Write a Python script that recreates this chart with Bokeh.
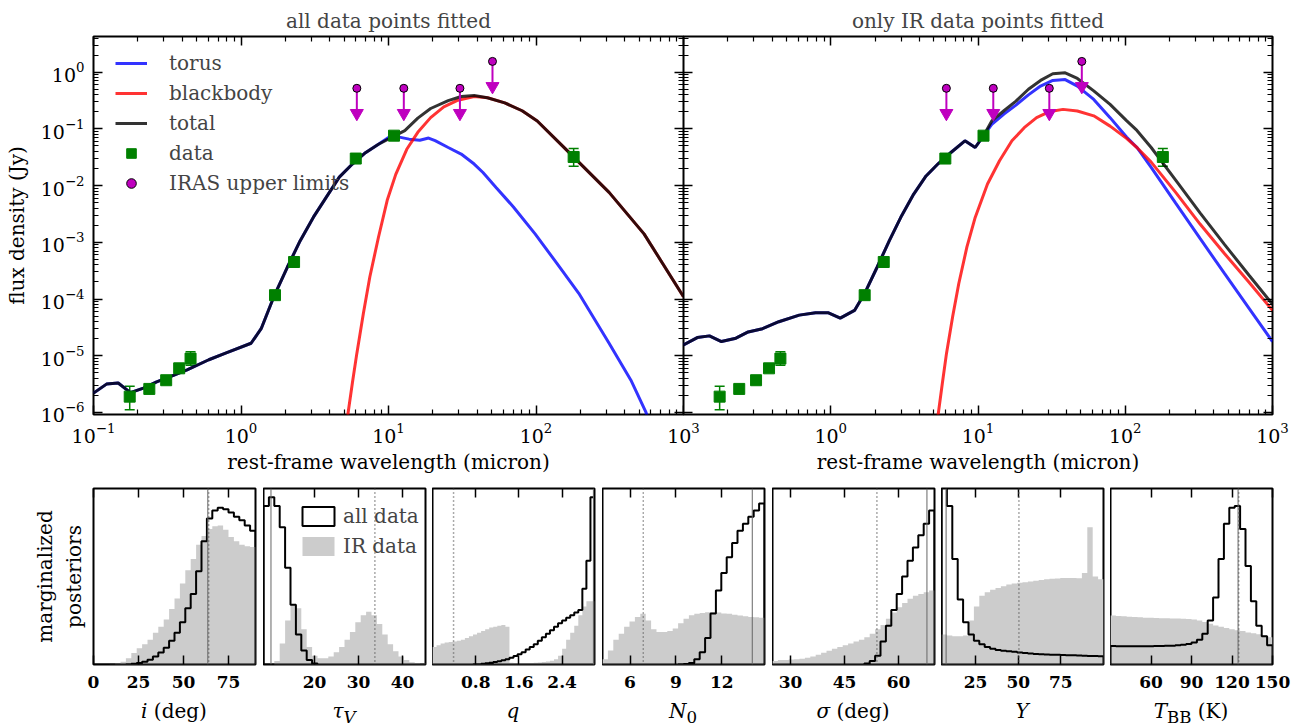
import numpy as np
from bokeh.plotting import figure
from bokeh.layouts import row, column
from bokeh.models import (Range1d, LogAxis, LinearAxis, FixedTicker, Legend, LegendItem,
                          Span, Whisker, TeeHead, ColumnDataSource, CustomJSTickFormatter, Div)
from bokeh.embed import file_html
from bokeh.resources import INLINE

FONT = "DejaVu Serif"
BLUE, RED, BLACK = "#0000ff", "#ff0000", "#000000"
GREEN, MAG, GREY = "#008000", "#bf00bf", "#cccccc"

# ---------------- SED: observed photometry (micron, Jy) ----------------
obs_wl = [0.176, 0.239, 0.311, 0.381, 0.455, 1.70, 2.29, 6.0, 10.9, 180.0]
obs_flux = [1.9e-6, 2.6e-6, 3.7e-6, 6.0e-6, 8.9e-6, 1.17e-4, 4.5e-4, 0.030, 0.076, 0.032]
obs_low = [1.12e-6, 2.3e-6, 3.3e-6, 5.2e-6, 6.8e-6, 1.05e-4, 4.0e-4, 0.027, 0.069, 0.022]
obs_high = [2.9e-6, 2.95e-6, 4.1e-6, 6.9e-6, 1.17e-5, 1.30e-4, 5.0e-4, 0.033, 0.083, 0.045]

iras_wl = [6.1, 12.7, 30.5, 50.7]
iras_lim = [0.52, 0.52, 0.52, 1.55]

# ---------------- SED: fit with all data points ----------------
all_total_wl = [0.100, 0.1225, 0.147, 0.178, 0.218, 0.268, 0.352, 0.431, 0.605, 0.794, 1.17, 1.37,
                1.67, 2.06, 2.52, 3.09, 3.78, 4.64, 5.69, 6.98, 8.55, 10.5, 12.9, 15.8, 19.3, 25.4,
                31.1, 38.1, 46.8, 61.4, 80.5, 102, 159, 313, 540, 1000]
all_total_flux = [2.19e-6, 3.16e-6, 3.31e-6, 2.24e-6, 2.69e-6, 3.47e-6, 4.57e-6, 5.62e-6, 8.5e-6,
                  1.12e-5, 1.66e-5, 3.0e-5, 1.10e-4, 3.63e-4, 1.07e-3, 2.75e-3, 6.2e-3, 0.0141,
                  0.024, 0.038, 0.0537, 0.0708, 0.0933, 0.155, 0.229, 0.316, 0.372, 0.389, 0.355,
                  0.288, 0.209, 0.138, 0.044, 7.6e-3, 1.41e-3, 1.1e-4]
all_torus_wl = [0.100, 0.1225, 0.147, 0.178, 0.218, 0.268, 0.352, 0.431, 0.605, 0.794, 1.17, 1.37,
                1.67, 2.06, 2.52, 3.09, 3.78, 4.64, 5.69, 6.98, 8.55, 10.0, 11.6, 13.8, 16.3, 18.7,
                20.7, 25.4, 31.1, 38.1, 43.7, 53.6, 70.3, 98.6, 139, 195, 313, 440, 557, 640]
all_torus_flux = [2.19e-6, 3.16e-6, 3.31e-6, 2.24e-6, 2.69e-6, 3.47e-6, 4.57e-6, 5.62e-6, 8.5e-6,
                  1.12e-5, 1.66e-5, 3.0e-5, 1.10e-4, 3.63e-4, 1.07e-3, 2.75e-3, 6.2e-3, 0.0141,
                  0.024, 0.038, 0.0537, 0.0705, 0.0724, 0.066, 0.063, 0.069, 0.062, 0.047, 0.036,
                  0.024, 0.017, 9.3e-3, 4.2e-3, 1.41e-3, 4.2e-4, 1.26e-4, 1.66e-5, 3.7e-6, 1.0e-6, 3e-7]
all_bb_wl = [5.2, 5.32, 5.69, 6.1, 6.75, 7.47, 8.55, 9.8, 11.2, 13.3, 15.8, 19.3, 23.7, 29.1, 38.1,
             47.0, 61.4, 80.5, 102, 159, 313, 540, 1000]
all_bb_flux = [5e-7, 9.8e-7, 3.3e-6, 1.1e-5, 5.5e-5, 2.45e-4, 1.23e-3, 5.5e-3, 0.0158, 0.0437, 0.087,
               0.158, 0.245, 0.316, 0.372, 0.355, 0.288, 0.209, 0.138, 0.044, 7.6e-3, 1.41e-3, 1.1e-4]

# ---------------- SED: fit with IR data points only ----------------
ir_total_wl = [0.100, 0.124, 0.150, 0.181, 0.227, 0.275, 0.344, 0.444, 0.611, 0.789, 0.957, 1.16,
               1.45, 1.70, 2.06, 2.50, 3.03, 3.66, 4.44, 5.38, 6.52, 8.15, 9.57, 10.9, 12.4, 15.0,
               18.1, 22.0, 26.6, 32.2, 39.1, 47.3, 61.1, 78.9, 102, 120, 150, 220, 322, 473, 695, 1000]
ir_total_flux = [1.55e-5, 2.09e-5, 2.24e-5, 1.78e-5, 2.04e-5, 2.63e-5, 3.0e-5, 3.98e-5, 5.2e-5,
                 5.75e-5, 5.75e-5, 4.6e-5, 6.3e-5, 1.26e-4, 3.6e-4, 1.07e-3, 2.95e-3, 7.1e-3, 0.0148,
                 0.0245, 0.038, 0.0617, 0.047, 0.0755, 0.138, 0.209, 0.309, 0.50, 0.716, 0.938, 0.977,
                 0.776, 0.468, 0.27, 0.14, 0.094, 0.047, 0.0125, 3.3e-3, 9.1e-4, 2.6e-4, 8.1e-5]
ir_torus_wl = [0.100, 0.124, 0.150, 0.181, 0.227, 0.275, 0.344, 0.444, 0.611, 0.789, 0.957, 1.16,
               1.45, 1.70, 2.06, 2.50, 3.03, 3.66, 4.44, 5.38, 6.52, 8.15, 9.57, 10.9, 12.4, 15.0,
               18.1, 22.0, 26.6, 32.2, 39.1, 47.3, 61.1, 78.9, 102, 120, 150, 220, 322, 473, 695, 1000]
ir_torus_flux = [1.55e-5, 2.09e-5, 2.24e-5, 1.78e-5, 2.04e-5, 2.63e-5, 3.0e-5, 3.98e-5, 5.2e-5,
                 5.75e-5, 5.75e-5, 4.6e-5, 6.3e-5, 1.26e-4, 3.6e-4, 1.07e-3, 2.95e-3, 7.1e-3, 0.0148,
                 0.0245, 0.038, 0.0617, 0.047, 0.0755, 0.12, 0.182, 0.263, 0.398, 0.569, 0.716, 0.741,
                 0.569, 0.331, 0.158, 0.072, 0.047, 0.021, 4.9e-3, 1.17e-3, 2.8e-4, 6.8e-5, 1.78e-5]
ir_bb_wl = [5.2, 5.38, 5.73, 6.11, 6.73, 7.40, 8.41, 9.57, 11.6, 14.0, 17.0, 20.6, 25.0, 30.3, 37.8,
            47.3, 61.1, 78.9, 102, 120, 150, 220, 322, 473, 695, 1000]
ir_bb_flux = [5e-7, 9.8e-7, 3.3e-6, 1.1e-5, 4.9e-5, 1.86e-4, 8.3e-4, 2.75e-3, 0.0107, 0.0275, 0.0617,
              0.105, 0.158, 0.20, 0.221, 0.207, 0.17, 0.112, 0.068, 0.047, 0.026, 7.6e-3, 2.1e-3,
              6.3e-4, 1.95e-4, 6.3e-5]

# ---------------- marginalized posteriors (fraction of panel height) ----------------
param_names = ["<i>i</i>&nbsp;(deg)", "<i>τ<sub>V</sub></i>", "<i>q</i>", "<i>N</i><sub>0</sub>",
               "<i>σ</i>&nbsp;(deg)", "<i>Y</i>", "<i>T</i><sub>BB</sub>&nbsp;(K)"]

inc_range = (0, 90)
inc_all = [0, 0, 0, 0, 0, 0, 0.002, 0.004, 0.009, 0.016, 0.027, 0.046, 0.068, 0.095, 0.135, 0.18,
           0.24, 0.32, 0.40, 0.53, 0.70, 0.83, 0.875, 0.89, 0.882, 0.864, 0.84, 0.82, 0.79, 0.76]
inc_ir = [0, 0, 0, 0.002, 0.005, 0.015, 0.035, 0.065, 0.093, 0.115, 0.14, 0.18, 0.215, 0.255, 0.315,
          0.375, 0.46, 0.535, 0.60, 0.68, 0.73, 0.77, 0.785, 0.79, 0.765, 0.725, 0.70, 0.68, 0.672, 0.667]
inc_ticks = [0, 25, 50, 75]
inc_lines = (63.5, 64.0)

tau_range = (8.4, 45.2)
tau_all = [0.90, 0.95, 0.90, 0.78, 0.55, 0.34, 0.17, 0.08, 0.025, 0.005, 0, 0, 0, 0, 0, 0, 0, 0, 0,
           0, 0, 0, 0, 0, 0, 0, 0, 0, 0, 0]
tau_ir = [0, 0, 0.02, 0.12, 0.25, 0.34, 0.32, 0.2, 0.1, 0.05, 0.035, 0.035, 0.045, 0.07, 0.1, 0.14,
          0.185, 0.24, 0.28, 0.30, 0.28, 0.23, 0.17, 0.115, 0.075, 0.045, 0.025, 0.013, 0.008, 0.005]
tau_ticks = [20, 30, 40]
tau_lines = (10.1, 33.7)

q_range = (0, 3)
q_all = [0, 0, 0, 0, 0, 0, 0, 0, 0, 0, 0.001, 0.002, 0.004, 0.007, 0.01, 0.014, 0.018, 0.024, 0.03,
         0.038, 0.048, 0.058, 0.07, 0.085, 0.10, 0.115, 0.135, 0.155, 0.175, 0.195, 0.215, 0.235,
         0.25, 0.265, 0.28, 0.295, 0.31, 0.43, 0.59, 0.95]
q_ir = [0.10, 0.11, 0.12, 0.125, 0.128, 0.13, 0.135, 0.14, 0.15, 0.16, 0.17, 0.18, 0.19, 0.2, 0.21,
        0.215, 0.22, 0.225, 0.215, 0.01, 0.008, 0.008, 0.008, 0.008, 0.009, 0.01, 0.012, 0.014,
        0.017, 0.022, 0.03, 0.05, 0.09, 0.14, 0.18, 0.22, 0.28, 0.33, 0.36, 0.36]
q_ticks = [0.8, 1.6, 2.4]
q_lines = (2.98, 0.39)

n0_range = (4.2, 14.8)
n0_all = [0, 0, 0, 0, 0, 0, 0, 0, 0, 0, 0, 0, 0, 0, 0.001, 0.003, 0.008, 0.03, 0.07, 0.15, 0.29,
          0.42, 0.52, 0.61, 0.69, 0.76, 0.80, 0.84, 0.875, 0.915]
n0_ir = [0.03, 0.08, 0.14, 0.175, 0.215, 0.245, 0.27, 0.288, 0.25, 0.2, 0.185, 0.185, 0.19, 0.205,
         0.235, 0.26, 0.28, 0.288, 0.293, 0.297, 0.297, 0.295, 0.29, 0.288, 0.283, 0.278, 0.274,
         0.27, 0.268, 0.265]
n0_ticks = [6, 9, 12]
n0_lines = (14.0, 6.87)

sig_range = (25, 70)
sig_all = [0, 0, 0, 0, 0, 0, 0, 0, 0, 0, 0, 0, 0, 0, 0, 0, 0, 0.005, 0.02, 0.05, 0.13, 0.22, 0.31,
           0.40, 0.50, 0.59, 0.665, 0.735, 0.80, 0.875]
sig_ir = [0.02, 0.025, 0.025, 0.028, 0.03, 0.033, 0.038, 0.045, 0.055, 0.067, 0.078, 0.09, 0.1, 0.11,
          0.12, 0.13, 0.14, 0.155, 0.175, 0.2, 0.225, 0.26, 0.295, 0.325, 0.35, 0.373, 0.39, 0.40,
          0.41, 0.42]
sig_ticks = [30, 45, 60]
sig_lines = (67.9, 54.0)

y_range_ = (5, 100)
y_all = [1.3, 0.90, 0.60, 0.37, 0.24, 0.17, 0.135, 0.115, 0.10, 0.09, 0.083, 0.078, 0.075, 0.072,
         0.068, 0.065, 0.063, 0.06, 0.058, 0.057, 0.056, 0.055, 0.054, 0.053, 0.052, 0.051, 0.05,
         0.049, 0.048, 0.047]
y_ir = [0.17, 0.165, 0.16, 0.16, 0.165, 0.25, 0.33, 0.39, 0.41, 0.425, 0.435, 0.445, 0.455, 0.46,
        0.465, 0.468, 0.472, 0.476, 0.48, 0.484, 0.487, 0.489, 0.491, 0.492, 0.492, 0.49, 0.52,
        0.78, 0.50, 0.485]
y_ticks = [25, 50, 75]
y_lines = (7.7, 50.4)

tbb_range = (30, 150)
tbb_all = [0.105, 0.103, 0.103, 0.103, 0.104, 0.104, 0.104, 0.104, 0.105, 0.105, 0.106, 0.107,
           0.109, 0.112, 0.117, 0.125, 0.14, 0.175, 0.25, 0.38, 0.6, 0.8, 0.89, 0.9, 0.77, 0.56,
           0.36, 0.22, 0.16, 0.11]
tbb_ir = [0.278, 0.276, 0.274, 0.272, 0.27, 0.268, 0.266, 0.265, 0.264, 0.263, 0.263, 0.262, 0.261,
          0.26, 0.258, 0.255, 0.25, 0.242, 0.232, 0.222, 0.215, 0.208, 0.2, 0.195, 0.19, 0.182,
          0.177, 0.172, 0.165, 0.155]
tbb_ticks = [60, 90, 120, 150]
tbb_lines = (124.5, 125.0)

# ---------------- helpers ----------------
xt_major = [0.1, 1.0, 10.0, 100.0, 1000.0]
xt_minor = [m * 10.0 ** e for e in range(-1, 3) for m in range(2, 10)]
yt_major = [10.0 ** e for e in range(-6, 1)]
yt_minor = [m * 10.0 ** e for e in range(-7, 1) for m in range(2, 10)]

LEFT = 93          # left border of the left-most frames
SED_W = (590, 589)
POST_W = 162
GAPS = [8, 7, 8, 8, 7, 7]
RIGHT_PAD = 22


def style_axis(ax, ticker, labels=True, size="17px", bold=False):
    ax.ticker = ticker
    ax.major_tick_in = 9
    ax.major_tick_out = 0
    ax.minor_tick_in = 5
    ax.minor_tick_out = 0
    ax.major_tick_line_width = 1.5
    ax.minor_tick_line_width = 1.2
    ax.major_tick_line_color = "black"
    ax.minor_tick_line_color = "black"
    ax.axis_line_color = None
    ax.major_label_text_font = FONT
    ax.major_label_text_font_size = size
    ax.major_label_text_color = "black"
    ax.major_label_text_font_style = "bold" if bold else "normal"
    ax.axis_label_text_font = FONT
    ax.axis_label_text_font_size = "20px"
    ax.axis_label_text_font_style = "normal"
    ax.axis_label_text_color = "black"
    if not labels:
        ax.formatter = CustomJSTickFormatter(code="return ''")
        ax.major_label_text_font_size = "0px"
        ax.major_label_standoff = 0


def sed_figure(title, border_left, frame_w, x_label_ticks, show_ylabels):
    p = figure(x_axis_type="log", y_axis_type="log",
               x_range=Range1d(0.1, 1000), y_range=Range1d(9.2e-7, 4.26),
               frame_width=frame_w, frame_height=378,
               min_border_left=border_left, min_border_right=RIGHT_PAD,
               min_border_top=36, min_border_bottom=66,
               output_backend="svg", toolbar_location=None)
    p.grid.visible = False
    p.outline_line_color = "black"
    p.outline_line_width = 2
    p.title.text = title
    p.title.align = "center"
    p.title.text_font = FONT
    p.title.text_font_size = "20px"
    p.title.text_font_style = "normal"
    p.title.standoff = 8
    xb = p.xaxis[0]
    style_axis(xb, FixedTicker(ticks=x_label_ticks, minor_ticks=xt_minor), size="19px")
    xb.major_label_standoff = 8
    xb.axis_label = "rest-frame wavelength (micron)"
    xb.axis_label_standoff = 4
    yl = p.yaxis[0]
    style_axis(yl, FixedTicker(ticks=yt_major, minor_ticks=yt_minor), labels=show_ylabels,
               size="19px")
    if show_ylabels:
        yl.major_label_standoff = 9
        yl.axis_label = "flux density (Jy)"
        yl.axis_label_standoff = 9
    top = LogAxis()
    style_axis(top, FixedTicker(ticks=xt_major, minor_ticks=xt_minor), labels=False)
    p.add_layout(top, "above")
    right = LogAxis()
    style_axis(right, FixedTicker(ticks=yt_major, minor_ticks=yt_minor), labels=False)
    p.add_layout(right, "right")
    return p


def draw_sed(p, torus_wl, torus_f, bb_wl, bb_f, tot_wl, tot_f):
    r_t = p.line(torus_wl, torus_f, line_color=BLUE, line_alpha=0.8, line_width=3)
    r_b = p.line(bb_wl, bb_f, line_color=RED, line_alpha=0.8, line_width=3)
    r_k = p.line(tot_wl, tot_f, line_color=BLACK, line_alpha=0.8, line_width=3)
    src = ColumnDataSource(dict(x=obs_wl, y=obs_flux, lo=obs_low, hi=obs_high))
    p.add_layout(Whisker(source=src, base="x", upper="hi", lower="lo", line_color=GREEN,
                         line_width=1.5,
                         upper_head=TeeHead(size=10, line_color=GREEN, line_width=1.5),
                         lower_head=TeeHead(size=10, line_color=GREEN, line_width=1.5)))
    r_d = p.scatter("x", "y", source=src, marker="square", size=11, fill_color=GREEN,
                    line_color=GREEN)
    lim = np.array(iras_lim)
    p.segment(x0=iras_wl, y0=lim, x1=iras_wl, y1=lim * 10 ** -0.37, line_color=MAG, line_width=2)
    p.scatter(iras_wl, lim * 10 ** -0.44, marker="inverted_triangle", size=13,
              fill_color=MAG, line_color=MAG)
    r_u = p.scatter(iras_wl, lim, marker="circle", size=8, fill_color=MAG, line_color="black",
                    line_width=1)
    return r_t, r_b, r_k, r_d, r_u


# ---------------- top row ----------------
p1 = sed_figure("all data points fitted", LEFT, SED_W[0], xt_major, True)
rt, rb, rk, rd, ru = draw_sed(p1, all_torus_wl, all_torus_flux, all_bb_wl, all_bb_flux,
                              all_total_wl, all_total_flux)
leg = Legend(items=[LegendItem(label="torus", renderers=[rt]),
                    LegendItem(label="blackbody", renderers=[rb]),
                    LegendItem(label="total", renderers=[rk]),
                    LegendItem(label="data", renderers=[rd]),
                    LegendItem(label="IRAS upper limits", renderers=[ru])],
             location=(22, 219), padding=0, margin=0, spacing=6,
             glyph_width=32, glyph_height=24, label_height=24, label_standoff=22,
             label_text_font=FONT, label_text_font_size="20px",
             border_line_color=None, background_fill_alpha=0)
p1.add_layout(leg)

p2 = sed_figure("only IR data points fitted", 0, SED_W[1], xt_major[1:], False)
p2.margin = (0, 0, 0, -RIGHT_PAD)
p2.border_fill_alpha = 0
draw_sed(p2, ir_torus_wl, ir_torus_flux, ir_bb_wl, ir_bb_flux, ir_total_wl, ir_total_flux)

# ---------------- bottom row ----------------
specs = [
    (inc_range, inc_all, inc_ir, inc_ticks, inc_lines),
    (tau_range, tau_all, tau_ir, tau_ticks, tau_lines),
    (q_range, q_all, q_ir, q_ticks, q_lines),
    (n0_range, n0_all, n0_ir, n0_ticks, n0_lines),
    (sig_range, sig_all, sig_ir, sig_ticks, sig_lines),
    (y_range_, y_all, y_ir, y_ticks, y_lines),
    (tbb_range, tbb_all, tbb_ir, tbb_ticks, tbb_lines),
]


def outline(lo, hi, vals):
    edges = np.linspace(lo, hi, len(vals) + 1)
    xs = np.repeat(edges, 2)
    ys = np.concatenate([[0.0], np.repeat(np.asarray(vals, dtype=float), 2), [0.0]])
    return xs, ys


bottoms = []
names = []
for i, (rng, h_all, h_ir, ticks, lines) in enumerate(specs):
    lo, hi = rng
    b_left = LEFT if i == 0 else 0
    b_right = GAPS[i] if i < len(GAPS) else RIGHT_PAD
    p = figure(x_range=Range1d(lo, hi), y_range=Range1d(0, 1),
               frame_width=POST_W, frame_height=176,
               min_border_left=b_left, min_border_right=b_right,
               min_border_top=8, min_border_bottom=33,
               y_axis_location="left" if i == 0 else None,
               output_backend="svg", toolbar_location=None)
    p.grid.visible = False
    p.outline_line_color = "black"
    p.outline_line_width = 2
    gx, gy = outline(lo, hi, h_ir)
    r_ir = p.patch(gx, gy, fill_color=GREY, line_color=None)
    bx, by = outline(lo, hi, h_all)
    r_all = p.patch(bx, by, fill_alpha=0, line_color="black", line_width=2)
    p.add_layout(Span(location=lines[0], dimension="height", line_color="#666666", line_width=1))
    p.add_layout(Span(location=lines[1], dimension="height", line_color="#555555",
                      line_width=1.5, line_dash="1 3"))
    xb = p.xaxis[0]
    style_axis(xb, FixedTicker(ticks=ticks), size="17px", bold=True)
    xb.major_label_standoff = 11
    top = LinearAxis()
    style_axis(top, FixedTicker(ticks=ticks), labels=False)
    p.add_layout(top, "above")
    if i == 0:
        yl = p.yaxis[0]
        style_axis(yl, FixedTicker(ticks=[]), labels=False)
        yl.axis_label = "marginalized\nposteriors"
        yl.axis_label_standoff = 8
    if i == 1:
        p.add_layout(Legend(items=[LegendItem(label="all data", renderers=[r_all]),
                                   LegendItem(label="IR data", renderers=[r_ir])],
                            location=(35, 106), padding=0, margin=0, spacing=6,
                            glyph_width=40, glyph_height=24, label_height=24, label_standoff=5,
                            label_text_font=FONT, label_text_font_size="20px",
                            border_line_color=None, background_fill_alpha=0))
    bottoms.append(p)
    names.append(Div(text=param_names[i], width=POST_W, height=24,
                     margin=(3, b_right, 0, b_left),
                     styles={"text-align": "center", "font-family": FONT, "font-size": "20px",
                             "line-height": "22px", "color": "black", "white-space": "nowrap"}))

layout = column(row(p1, p2), row(*bottoms), row(*names))
open("out.html", "w").write(file_html(layout, INLINE))
